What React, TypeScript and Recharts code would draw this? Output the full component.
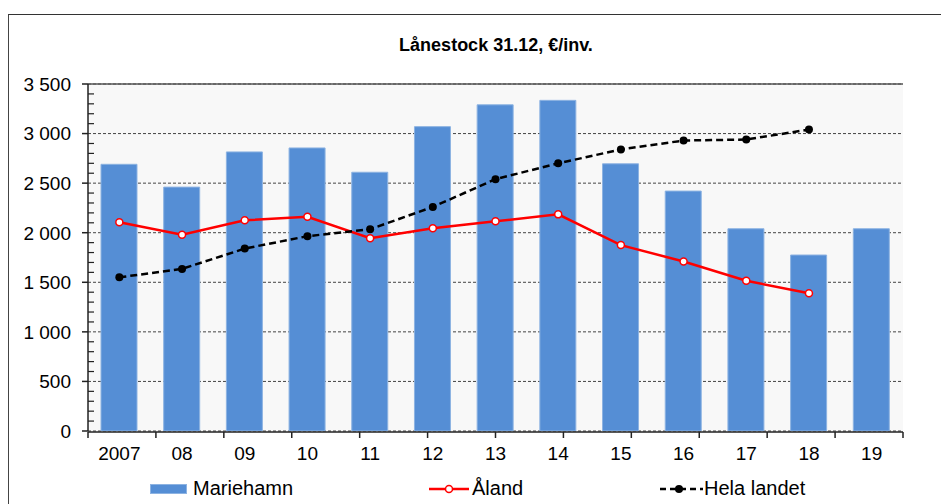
import React from "react";
import {
  Bar,
  CartesianGrid,
  ComposedChart,
  Legend,
  Line,
  ReferenceLine,
  XAxis,
  YAxis,
} from "recharts";

const years = ["2007", "08", "09", "10", "11", "12", "13", "14", "15", "16", "17", "18", "19"];
const mariehamn = [2690, 2460, 2815, 2855, 2610, 3070, 3290, 3335, 2695, 2420, 2040, 1775, 2040];
const aland = [2105, 1980, 2125, 2160, 1945, 2045, 2115, 2185, 1875, 1710, 1515, 1390, null];
const helaLandet = [1550, 1635, 1840, 1965, 2035, 2260, 2540, 2700, 2840, 2930, 2940, 3040, null];

const yTicks = [0, 500, 1000, 1500, 2000, 2500, 3000, 3500];
const yMinorTicks = [
  100, 200, 300, 400, 600, 700, 800, 900, 1100, 1200, 1300, 1400, 1600, 1700, 1800, 1900,
  2100, 2200, 2300, 2400, 2600, 2700, 2800, 2900, 3100, 3200, 3300, 3400,
];
const boundaryTicks = [0, 1, 2, 3, 4, 5, 6, 7, 8, 9, 10, 11, 12, 13];

const data = years.map((year, i) => ({
  year,
  mariehamn: mariehamn[i],
  aland: aland[i],
  helaLandet: helaLandet[i],
}));

const FONT = '"Liberation Sans", Arial, sans-serif';
const BAR_FILL = "#558ED5";
const BAR_STROKE = "#8DB3E2";

const fmt = (v: number) => String(v).replace(/\B(?=(\d{3})+(?!\d))/g, " ");

// plain text tick so the 1px wide axis does not wrap "3 500"
const YTick = (props: any) => {
  const { x, y, payload } = props;
  return (
    <text x={x} y={y} dy="0.36em" textAnchor="end" fill="#000" fontSize={19} fontFamily={FONT}>
      {fmt(payload.value)}
    </text>
  );
};

const LegendContent = () => (
  <div style={{ position: "relative", width: 941, height: 68, fontFamily: FONT, fontSize: 20, color: "#000" }}>
    <div
      style={{
        position: "absolute",
        left: 150,
        top: 51,
        width: 37,
        height: 10,
        background: BAR_FILL,
        boxSizing: "border-box",
        border: `1px solid ${BAR_STROKE}`,
      }}
    />
    <span style={{ position: "absolute", left: 193, top: 44, lineHeight: "23px" }}>Mariehamn</span>
    <svg style={{ position: "absolute", left: 429, top: 48 }} width={40} height={16}>
      <line x1={0} y1={8} x2={40} y2={8} stroke="#FF0000" strokeWidth={2.5} />
      <circle cx={20} cy={8} r={3.5} fill="#fff" stroke="#FF0000" strokeWidth={1.5} />
    </svg>
    <span style={{ position: "absolute", left: 472, top: 44, lineHeight: "23px" }}>Åland</span>
    <svg style={{ position: "absolute", left: 660, top: 48 }} width={43} height={16}>
      <line x1={0} y1={8} x2={43} y2={8} stroke="#000" strokeWidth={2.5} strokeDasharray="6 4" />
      <circle cx={19} cy={8} r={4} fill="#000" />
    </svg>
    <span style={{ position: "absolute", left: 704, top: 44, lineHeight: "23px" }}>Hela landet</span>
  </div>
);

export default function App() {
  return (
    <div style={{ position: "absolute", left: 0, top: 0, width: 941, height: 504, overflow: "hidden", background: "#fff", fontFamily: FONT }}>
      <div
        style={{
          position: "absolute",
          left: 8,
          top: 14,
          width: 1000,
          height: 600,
          borderTop: "1.5px solid #333",
          borderLeft: "1.5px solid #444",
        }}
      />
      <div
        style={{
          position: "absolute",
          left: 89,
          width: 814,
          top: 34,
          textAlign: "center",
          fontWeight: "bold",
          fontSize: 18,
          lineHeight: "22px",
          color: "#000",
        }}
      >
        Lånestock 31.12, €/inv.
      </div>
      <div style={{ position: "absolute", left: 0, top: 0 }}>
        <ComposedChart width={941} height={504} data={data} margin={{ top: 84, right: 38, left: 87, bottom: 3 }}>
          <CartesianGrid
            vertical={false}
            fill="#F8F8F8"
            stroke="#444"
            strokeDasharray="3 2"
          />
          <XAxis
            xAxisId="b"
            type="number"
            domain={[0, 13]}
            allowDataOverflow
            ticks={boundaryTicks}
            tickFormatter={() => ""}
            height={1}
            tickSize={6}
            axisLine={{ stroke: "#222", strokeWidth: 1.5 }}
            tickLine={{ stroke: "#222", strokeWidth: 1.5 }}
          />
          <XAxis
            dataKey="year"
            height={1}
            axisLine={false}
            tickLine={false}
            tickSize={6}
            tickMargin={10}
            interval={0}
            tick={{ fill: "#000", fontSize: 19, fontFamily: FONT }}
          />
          <YAxis
            yAxisId="minor"
            domain={[0, 3500]}
            allowDataOverflow
            ticks={yMinorTicks}
            tickFormatter={() => ""}
            width={1}
            mirror
            tickSize={6}
            axisLine={false}
            tickLine={{ stroke: "#222", strokeWidth: 1.2 }}
          />
          <YAxis
            domain={[0, 3500]}
            allowDataOverflow
            ticks={yTicks}
            width={1}
            tickSize={6}
            tickMargin={11}
            axisLine={{ stroke: "#222", strokeWidth: 1.5 }}
            tickLine={{ stroke: "#222", strokeWidth: 1.5 }}
            tick={YTick}
          />
          <ReferenceLine y={3500} stroke="#555" strokeWidth={1.5} />
          <ReferenceLine xAxisId="b" x={13} stroke="#555" strokeWidth={1.5} />
          <Bar
            dataKey="mariehamn"
            name="Mariehamn"
            barSize={36}
            fill={BAR_FILL}
            stroke={BAR_STROKE}
            strokeWidth={1}
            isAnimationActive={false}
          />
          <Line
            dataKey="aland"
            name="Åland"
            stroke="#FF0000"
            strokeWidth={2.5}
            dot={{ r: 3.5, fill: "#fff", stroke: "#FF0000", strokeWidth: 1.5 }}
            activeDot={false}
            isAnimationActive={false}
          />
          <Line
            dataKey="helaLandet"
            name="Hela landet"
            stroke="#000"
            strokeWidth={2.5}
            strokeDasharray="7 4"
            dot={{ r: 4, fill: "#000", stroke: "#000", strokeWidth: 0, strokeDasharray: "" }}
            activeDot={false}
            isAnimationActive={false}
          />
          <Legend
            verticalAlign="bottom"
            content={LegendContent}
            wrapperStyle={{ left: 0, width: 941 }}
          />
        </ComposedChart>
      </div>
    </div>
  );
}
